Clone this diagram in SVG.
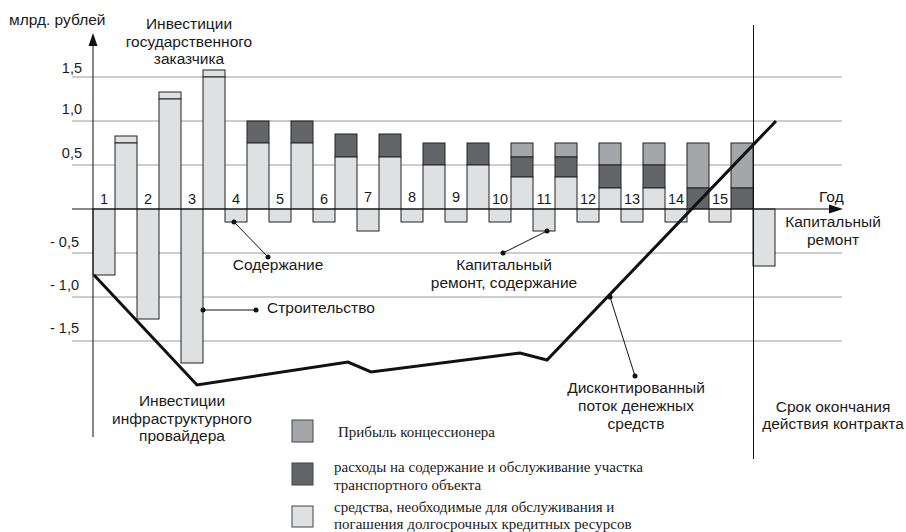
<svg xmlns="http://www.w3.org/2000/svg" width="906" height="532" viewBox="0 0 906 532">
<style>
.t{font-family:"Liberation Sans",Arial,sans-serif;font-size:15.5px;fill:#1a1a1a}
.n{font-family:"Liberation Sans",Arial,sans-serif;font-size:14.5px;fill:#1a1a1a}
.s{font-family:"Liberation Serif","Times New Roman",serif;font-size:15px;fill:#1a1a1a}
.grid{stroke:#9a9a9a;stroke-width:1}
.L{fill:#dfe0e2;stroke:#222;stroke-width:1}
.M{fill:#a5a6a9;stroke:#222;stroke-width:1}
.D{fill:#646568;stroke:#222;stroke-width:1}
.ptr{stroke:#111;stroke-width:1;fill:none}
.dot{fill:#111}
</style>
<rect width="906" height="532" fill="#fff"/>
<g id="grid">
<line class="grid" x1="72" y1="77" x2="842" y2="77"/>
<line class="grid" x1="72" y1="121" x2="842" y2="121"/>
<line class="grid" x1="72" y1="165" x2="842" y2="165"/>
<line class="grid" x1="72" y1="253" x2="842" y2="253"/>
<line class="grid" x1="72" y1="297" x2="842" y2="297"/>
<line class="grid" x1="72" y1="341" x2="842" y2="341"/>
</g>
<g id="bars">
<rect class="L" x="93" y="209" width="22" height="66"/>
<rect class="L" x="137" y="209" width="22" height="110"/>
<rect class="L" x="181" y="209" width="22" height="154"/>
<rect class="L" x="225" y="209" width="22" height="13"/>
<rect class="L" x="269" y="209" width="22" height="13"/>
<rect class="L" x="313" y="209" width="22" height="13"/>
<rect class="L" x="357" y="209" width="22" height="22"/>
<rect class="L" x="401" y="209" width="22" height="13"/>
<rect class="L" x="445" y="209" width="22" height="13"/>
<rect class="L" x="489" y="209" width="22" height="13"/>
<rect class="L" x="533" y="209" width="22" height="22"/>
<rect class="L" x="577" y="209" width="22" height="13"/>
<rect class="L" x="621" y="209" width="22" height="13"/>
<rect class="L" x="665" y="209" width="22" height="13"/>
<rect class="L" x="709" y="209" width="22" height="13"/>
<rect class="L" x="753" y="209" width="22" height="57"/>

<rect class="L" x="115" y="136" width="22" height="7"/>
<rect class="L" x="115" y="143" width="22" height="66"/>
<rect class="L" x="159" y="92" width="22" height="7"/>
<rect class="L" x="159" y="99" width="22" height="110"/>
<rect class="L" x="203" y="70" width="22" height="7"/>
<rect class="L" x="203" y="77" width="22" height="132"/>

<rect class="D" x="247" y="121" width="22" height="22"/>
<rect class="L" x="247" y="143" width="22" height="66"/>
<rect class="D" x="291" y="121" width="22" height="22"/>
<rect class="L" x="291" y="143" width="22" height="66"/>

<rect class="D" x="335" y="134" width="22" height="23"/>
<rect class="L" x="335" y="157" width="22" height="52"/>
<rect class="D" x="379" y="134" width="22" height="23"/>
<rect class="L" x="379" y="157" width="22" height="52"/>

<rect class="D" x="423" y="143" width="22" height="22"/>
<rect class="L" x="423" y="165" width="22" height="44"/>
<rect class="D" x="467" y="143" width="22" height="22"/>
<rect class="L" x="467" y="165" width="22" height="44"/>

<rect class="M" x="511" y="143" width="22" height="14"/>
<rect class="D" x="511" y="157" width="22" height="20"/>
<rect class="L" x="511" y="177" width="22" height="32"/>
<rect class="M" x="555" y="143" width="22" height="14"/>
<rect class="D" x="555" y="157" width="22" height="20"/>
<rect class="L" x="555" y="177" width="22" height="32"/>

<rect class="M" x="599" y="143" width="22" height="22"/>
<rect class="D" x="599" y="165" width="22" height="23"/>
<rect class="L" x="599" y="188" width="22" height="21"/>
<rect class="M" x="643" y="143" width="22" height="22"/>
<rect class="D" x="643" y="165" width="22" height="23"/>
<rect class="L" x="643" y="188" width="22" height="21"/>

<rect class="M" x="687" y="143" width="22" height="45"/>
<rect class="D" x="687" y="188" width="22" height="21"/>
<rect class="M" x="731" y="143" width="22" height="45"/>
<rect class="D" x="731" y="188" width="22" height="21"/>
</g>
<g id="axes">
<line x1="93" y1="44" x2="93" y2="437" stroke="#111" stroke-width="1"/>
<polygon points="93,33 88.5,46 97.5,46" fill="#111"/>
<line x1="72" y1="209" x2="830" y2="209" stroke="#111" stroke-width="1.2"/>
<polygon points="843,209 829,204.5 829,213.5" fill="#111"/>
<line x1="753.5" y1="25" x2="753.5" y2="459" stroke="#111" stroke-width="1"/>
</g>
<g id="labels">
<text class="t" x="9" y="25">млрд. рублей</text>
<g class="n" text-anchor="end">
<text x="82" y="73">1,5</text>
<text x="82" y="114">1,0</text>
<text x="82" y="158">0,5</text>
<text x="79" y="247">- 0,5</text>
<text x="79" y="290">- 1,0</text>
<text x="79" y="333">- 1,5</text>
</g>
<g class="n" text-anchor="middle">
<text x="104" y="204">1</text>
<text x="148" y="204">2</text>
<text x="192" y="204">3</text>
<text x="236" y="204">4</text>
<text x="280" y="204">5</text>
<text x="324" y="204">6</text>
<text x="368" y="202">7</text>
<text x="412" y="202">8</text>
<text x="456" y="202">9</text>
<text x="500" y="204">10</text>
<text x="544" y="204">11</text>
<text x="588" y="204">12</text>
<text x="632" y="204">13</text>
<text x="676" y="204">14</text>
<text x="720" y="204">15</text>
</g>
<text class="t" x="819" y="202">Год</text>
<g class="t" text-anchor="middle">
<text x="833" y="227">Капитальный</text>
<text x="833" y="245">ремонт</text>
<text x="189" y="29">Инвестиции</text>
<text x="189" y="47">государственного</text>
<text x="189" y="64">заказчика</text>
<text x="182" y="406">Инвестиции</text>
<text x="182" y="424">инфраструктурного</text>
<text x="182" y="441">провайдера</text>
<text x="278" y="270">Содержание</text>
<text x="504" y="270">Капитальный</text>
<text x="504" y="288">ремонт, содержание</text>
<text x="636" y="393">Дисконтированный</text>
<text x="636" y="411">поток денежных</text>
<text x="636" y="429">средств</text>
<text x="833" y="412">Срок окончания</text>
<text x="833" y="429">действия контракта</text>
</g>
<text class="t" x="267" y="313">Строительство</text>
</g>
<g id="connectors">
<polyline points="94,275 197,385 348,362 371,372 520,353 547,360 776,121" fill="none" stroke="#111" stroke-width="3" stroke-linejoin="miter"/>
<line class="ptr" x1="234" y1="222" x2="268" y2="257"/>
<circle class="dot" cx="234" cy="222" r="2.5"/>
<circle class="dot" cx="268" cy="257" r="2.5"/>
<line class="ptr" x1="203" y1="310" x2="256" y2="310"/>
<circle class="dot" cx="203" cy="310" r="2.5"/>
<circle class="dot" cx="256" cy="310" r="2.5"/>
<line class="ptr" x1="547" y1="231" x2="503" y2="253"/>
<circle class="dot" cx="547" cy="231" r="2.5"/>
<circle class="dot" cx="503" cy="253" r="2.5"/>
<line class="ptr" x1="610" y1="297" x2="635" y2="376"/>
<circle class="dot" cx="610" cy="297" r="2.5"/>
<circle class="dot" cx="635" cy="376" r="2.5"/>
</g>
<g id="legend">
<rect x="292" y="420" width="21" height="22" fill="#a5a6a9" stroke="#444"/>
<rect x="292" y="463" width="21" height="22" fill="#646568" stroke="#444"/>
<rect x="292" y="506" width="21" height="21" fill="#dfe0e2" stroke="#444"/>
<text class="s" x="338" y="437">Прибыль концессионера</text>
<text class="s" x="334" y="472">расходы на содержание и обслуживание участка</text>
<text class="s" x="334" y="490">транспортного объекта</text>
<text class="s" x="334" y="512">средства, необходимые для обслуживания и</text>
<text class="s" x="334" y="529">погашения долгосрочных кредитных ресурсов</text>
</g>
</svg>
